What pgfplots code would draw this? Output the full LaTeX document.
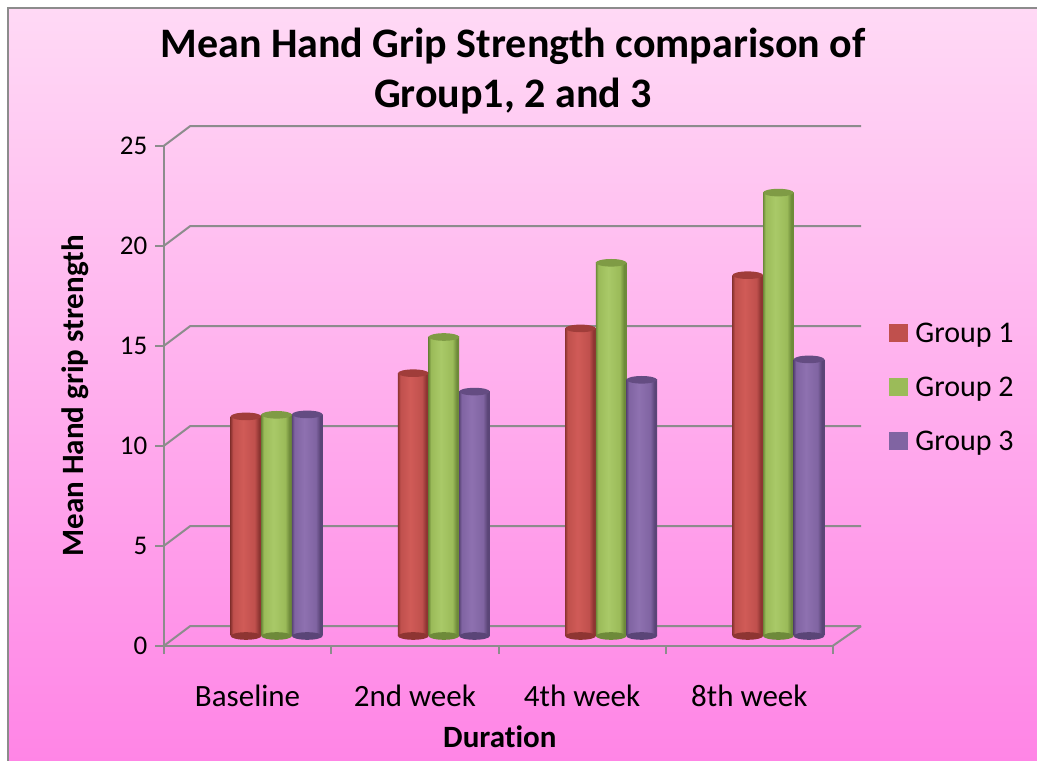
\documentclass[border=0pt]{standalone}
\usepackage{pgfplots}
\pgfplotsset{compat=1.18}
\usepackage{pgfplotstable}
\usepackage{fontspec}
\setmainfont{Carlito}[Ligatures=NoCommon]

\definecolor{gc}{HTML}{8C8C8C}
\definecolor{bgT}{RGB}{255,217,245}
\definecolor{bgB}{RGB}{255,133,230}
\definecolor{rB}{HTML}{C0504D}\definecolor{rL}{HTML}{D05B57}\definecolor{rD}{HTML}{8E3532}\definecolor{rT}{HTML}{A03D3A}
\definecolor{gB}{HTML}{9BBB59}\definecolor{gL}{HTML}{A9C968}\definecolor{gD}{HTML}{6E8A3A}\definecolor{gT}{HTML}{7F9B45}
\definecolor{pB}{HTML}{8064A2}\definecolor{pL}{HTML}{8E71B0}\definecolor{pD}{HTML}{5A4577}\definecolor{pT}{HTML}{644C82}

\pgfdeclarehorizontalshading{cylR}{100bp}{color(0bp)=(rD); color(25bp)=(rD); color(29bp)=(rB); color(45bp)=(rL); color(64bp)=(rB); color(71bp)=(rD); color(75bp)=(rD); color(100bp)=(rD)}
\pgfdeclarehorizontalshading{cylG}{100bp}{color(0bp)=(gD); color(25bp)=(gD); color(29bp)=(gB); color(45bp)=(gL); color(64bp)=(gB); color(71bp)=(gD); color(75bp)=(gD); color(100bp)=(gD)}
\pgfdeclarehorizontalshading{cylP}{100bp}{color(0bp)=(pD); color(25bp)=(pD); color(29bp)=(pB); color(45bp)=(pL); color(64bp)=(pB); color(71bp)=(pD); color(75bp)=(pD); color(100bp)=(pD)}

\pgfdeclareplotmark{ell}{\pgfpathellipse{\pgfpointorigin}{\pgfqpoint{15.3pt}{0pt}}{\pgfqpoint{0pt}{3.8pt}}\pgfusepathqfill}

\pgfplotstableread{
k g1 g2 g3
0 10.98 11.06 11.08
1 13.14 14.95 12.22
2 15.38 18.66 12.81
3 18.04 22.17 13.83
}\data

\begin{document}
\begin{tikzpicture}[x=1pt,y=1pt]
\useasboundingbox (0,0) rectangle (1037,761);
\fill[white] (0,0) rectangle (1037,761);
\shade[top color=bgT, bottom color=bgB] (8.3,0) rectangle (1037,752.7);
\draw[gc, line width=2pt] (8.3,-5) -- (8.3,752.7) -- (1045,752.7);

\begin{axis}[
  at={(164pt,115.3pt)}, anchor=south west,
  scale only axis, width=669pt, height=500pt,
  xmin=0, xmax=4, ymin=0, ymax=25,
  axis x line*=bottom, axis y line*=left,
  axis line style={gc, line width=2pt, -},
  clip=false,
  ytick={0,5,...,25},
  xtick={0,1,2,3,4},
  xticklabels={Baseline,2nd week,4th week,8th week,},
  tick align=outside, major tick length=8.5pt,
  tick style={gc, line width=2pt},
  /pgf/number format/assume math mode=true,
  yticklabel style={font=\fontsize{27}{32}\selectfont, anchor=east, inner sep=0pt, xshift=-8pt},
  xticklabel style={font=\fontsize{31}{36}\selectfont, anchor=base, inner sep=0pt, xshift=83.6pt, yshift=-52pt},
  title={Mean Hand Grip Strength comparison of\\Group1, 2 and 3},
  title style={align=center, font=\bfseries\fontsize{42}{50}\selectfont, at={(axis description cs:0.5217,1.0648)}, anchor=base, inner sep=0pt},
  xlabel={Duration},
  xlabel style={font=\bfseries\fontsize{31}{36}\selectfont, at={(axis description cs:0.502,-0.2032)}, anchor=base, inner sep=0pt},
  ylabel={Mean Hand grip strength},
  ylabel style={font=\bfseries\fontsize{31}{36}\selectfont, at={(axis description cs:-0.1196,0.5)}, anchor=base, inner sep=0pt},
]
\pgfplotsinvokeforeach{0,5,...,25}{
  \draw[gc, line width=2pt] (axis cs:0,#1) -- ++(26pt,19.5pt) -- ([xshift=28pt,yshift=19.5pt]axis cs:4,#1);
}
\draw[gc, line width=2pt] (axis cs:4,0) -- ++(28pt,19.5pt);
\end{axis}

\begin{axis}[
  at={(193pt,125pt)}, anchor=south west,
  scale only axis, width=669pt, height=500pt,
  xmin=0, xmax=4, ymin=0, ymax=25,
  hide axis, clip=false,
  legend style={at={(axis description cs:1.0404,0.493)}, anchor=west, draw=none, fill=none,
    font=\fontsize{30}{36}\selectfont, inner sep=0pt, row sep=28pt, column sep=8pt,
    cells={anchor=base west}, nodes={inner sep=0pt, text height=20pt, text depth=6pt}},
]
\addlegendimage{legend image code/.code={\fill[rB] (0pt,0.85pt) rectangle (17.7pt,18.55pt);}}
\addlegendimage{legend image code/.code={\fill[gB] (0pt,0.85pt) rectangle (17.7pt,18.55pt);}}
\addlegendimage{legend image code/.code={\fill[pB] (0pt,0.85pt) rectangle (17.7pt,18.55pt);}}
\legend{Group 1,Group 2,Group 3}

% bottom ellipses
\addplot[only marks, mark=ell, mark options={fill=rD, draw=none}] table[x expr=\thisrow{k}+0.5-0.183, y expr=0] {\data};
\addplot[only marks, mark=ell, mark options={fill=gD, draw=none}] table[x expr=\thisrow{k}+0.5, y expr=0] {\data};
\addplot[only marks, mark=ell, mark options={fill=pD, draw=none}] table[x expr=\thisrow{k}+0.5+0.183, y expr=0] {\data};
% bars
\pgfplotsinvokeforeach{0,1,2,3}{
  \addplot[ybar, bar width=30.6pt, bar shift=0pt, draw=none, shade, shading=cylR, restrict expr to domain={\coordindex}{#1:#1}] table[x expr=\thisrow{k}+0.5-0.183, y=g1] {\data};
  \addplot[ybar, bar width=30.6pt, bar shift=0pt, draw=none, shade, shading=cylG, restrict expr to domain={\coordindex}{#1:#1}] table[x expr=\thisrow{k}+0.5, y=g2] {\data};
  \addplot[ybar, bar width=30.6pt, bar shift=0pt, draw=none, shade, shading=cylP, restrict expr to domain={\coordindex}{#1:#1}] table[x expr=\thisrow{k}+0.5+0.183, y=g3] {\data};
}
% top ellipses
\addplot[only marks, mark=ell, mark options={fill=rT, draw=none}] table[x expr=\thisrow{k}+0.5-0.183, y=g1] {\data};
\addplot[only marks, mark=ell, mark options={fill=gT, draw=none}] table[x expr=\thisrow{k}+0.5, y=g2] {\data};
\addplot[only marks, mark=ell, mark options={fill=pT, draw=none}] table[x expr=\thisrow{k}+0.5+0.183, y=g3] {\data};
\end{axis}
\end{tikzpicture}
\end{document}
